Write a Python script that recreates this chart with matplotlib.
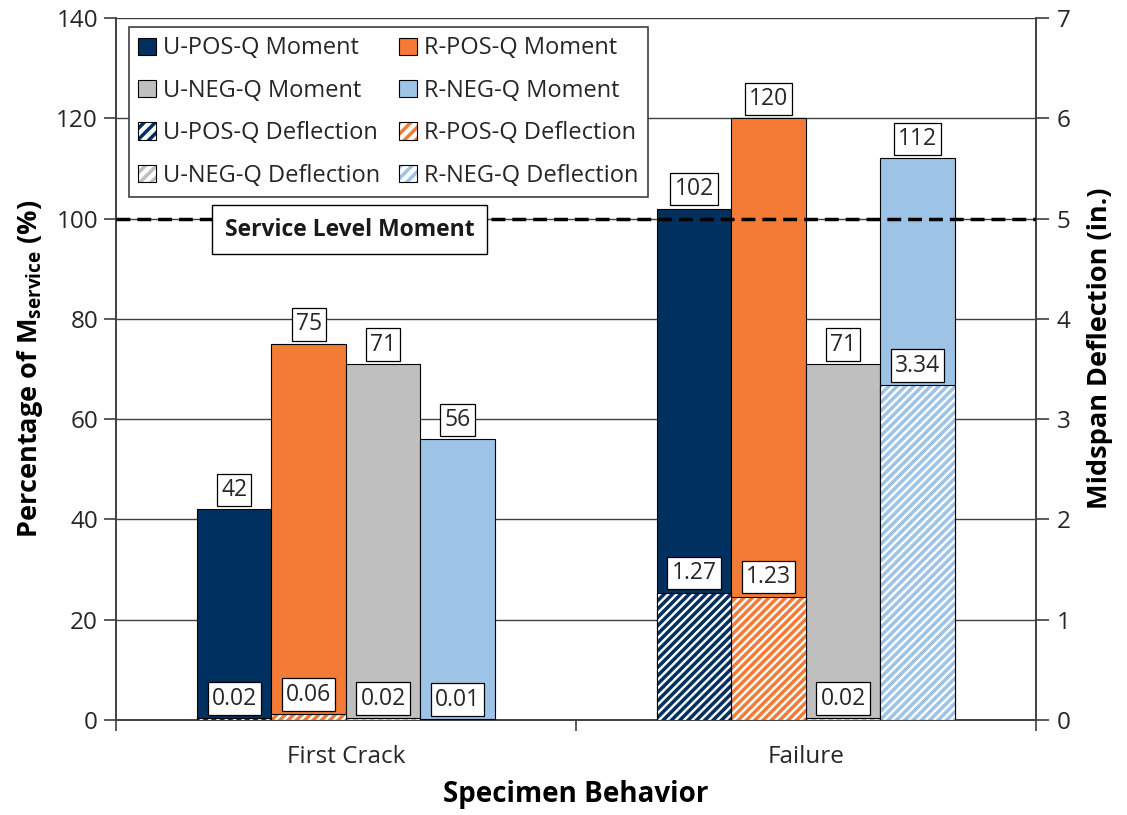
import matplotlib
matplotlib.use("Agg")
import matplotlib.pyplot as plt
from matplotlib.patches import Patch
from matplotlib.legend_handler import HandlerTuple
import numpy as np

plt.rcParams['font.family'] = ['Open Sans', 'DejaVu Sans']
plt.rcParams['mathtext.fontset'] = 'custom'
plt.rcParams['mathtext.rm'] = 'Open Sans'
plt.rcParams['mathtext.bf'] = 'Open Sans:bold'
plt.rcParams['hatch.linewidth'] = 2.5
plt.rcParams['text.color'] = '#262626'
plt.rcParams['axes.labelcolor'] = '#000000'
plt.rcParams['xtick.labelcolor'] = '#262626'
plt.rcParams['ytick.labelcolor'] = '#262626'

categories = ["First Crack", "Failure"]
series = ["U-POS-Q", "R-POS-Q", "U-NEG-Q", "R-NEG-Q"]
moment = {
    "U-POS-Q": [42, 102],
    "R-POS-Q": [75, 120],
    "U-NEG-Q": [71, 71],
    "R-NEG-Q": [56, 112],
}
deflection = {
    "U-POS-Q": [0.02, 1.27],
    "R-POS-Q": [0.06, 1.23],
    "U-NEG-Q": [0.02, 0.02],
    "R-NEG-Q": [0.01, 3.34],
}
deflection_labels = {
    "U-POS-Q": ["0.02", "1.27"],
    "R-POS-Q": ["0.06", "1.23"],
    "U-NEG-Q": ["0.02", "0.02"],
    "R-NEG-Q": ["0.01", "3.34"],
}
colors = {
    "U-POS-Q": "#003060",
    "R-POS-Q": "#F47B36",
    "U-NEG-Q": "#BFBFBF",
    "R-NEG-Q": "#9DC3E6",
}
service_level = 100

fig = plt.figure(figsize=(11.27, 8.15), dpi=100)
ax1 = fig.add_axes([0.103, 0.1166, 0.816, 0.8613])
ax2 = ax1.twinx()

x = np.arange(len(categories))
w = 0.162
offsets = [-1.5 * w, -0.5 * w, 0.5 * w, 1.5 * w]
HATCH = "////"

for s, off in zip(series, offsets):
    ax1.bar(x + off, moment[s], width=w, color=colors[s], edgecolor="black",
            linewidth=0.8, zorder=3)
    ax2.bar(x + off, deflection[s], width=w, color="white", edgecolor=colors[s],
            hatch=HATCH, linewidth=0, zorder=3)
    ax2.bar(x + off, deflection[s], width=w, fill=False, edgecolor="black",
            linewidth=0.8, zorder=4)

box = dict(boxstyle="square,pad=0.18", facecolor="white", edgecolor="black", linewidth=0.9)
for s, off in zip(series, offsets):
    for i in range(len(categories)):
        ax2.annotate(str(moment[s][i]), xy=(x[i] + off, moment[s][i]),
                     xycoords=ax1.transData, xytext=(0, 14), textcoords="offset points",
                     ha="center", va="center", fontsize=16.5, bbox=box, zorder=10)
        ax2.annotate(deflection_labels[s][i], xy=(x[i] + off, deflection[s][i]),
                     xycoords=ax2.transData, xytext=(0, 14), textcoords="offset points",
                     ha="center", va="center", fontsize=16.5, bbox=box, zorder=10)

ax2.plot([-0.5, 1.5], [service_level / 20, service_level / 20], color="black",
         linestyle=(0, (4, 2)), linewidth=2.5, zorder=6)
ax2.text(0.008, 97.8 / 20, "Service Level Moment", ha="center", va="center",
         fontsize=16.5, fontweight="bold", zorder=11, color="#1a1a1a",
         bbox=dict(boxstyle="square,pad=0.55", facecolor="white", edgecolor="black", linewidth=1))

ax1.set_xlim(-0.5, 1.5)
ax1.set_ylim(0, 140)
ax2.set_ylim(0, 7)
ax1.set_yticks(np.arange(0, 141, 20))
ax2.set_yticks(np.arange(0, 8, 1))
ax1.yaxis.grid(True, color="#404040", linewidth=1.0, zorder=0)
ax1.set_axisbelow(True)

ax1.set_xticks(x)
ax1.set_xticklabels(categories, fontsize=17.5)
ax1.set_xticks([-0.5, 0.5, 1.5], minor=True)
ax1.tick_params(axis="x", which="major", length=0, pad=18)
ax1.tick_params(axis="x", which="minor", length=8, width=1.2, color="#404040")
ax1.tick_params(axis="y", length=9, width=1.2, color="#404040", labelsize=17.5, pad=4)
ax2.tick_params(axis="y", length=9, width=1.2, color="#404040", labelsize=17.5, pad=6)

for ax in (ax1, ax2):
    ax.spines["top"].set_visible(False)
    for sp in ("left", "right", "bottom"):
        ax.spines[sp].set_color("#404040")
        ax.spines[sp].set_linewidth(1.2)

ax1.set_ylabel(r"Percentage of M$_{\mathbf{service}}$ (%)", fontsize=19.5,
               fontweight="bold", labelpad=8)
ax2.set_ylabel("Midspan Deflection (in.)", fontsize=19.5, fontweight="bold")
ax2.yaxis.set_label_coords(1.056, 0.53)
ax1.set_xlabel("Specimen Behavior", fontsize=20, fontweight="bold", labelpad=8)

handles = []
labels = []
order_cols = [["U-POS-Q", "U-NEG-Q"], ["R-POS-Q", "R-NEG-Q"]]
for col in order_cols:
    for s in col:
        handles.append(Patch(facecolor=colors[s], edgecolor="black", linewidth=0.8))
        labels.append(f"{s} Moment")
    for s in col:
        handles.append((Patch(facecolor="white", edgecolor=colors[s], hatch="///", linewidth=0),
                        Patch(fill=False, edgecolor="black", linewidth=0.8)))
        labels.append(f"{s} Deflection")

leg = ax2.legend(handles, labels, ncol=2, loc="upper left",
                 bbox_to_anchor=(0.001, 1.004), fontsize=17, frameon=True,
                 fancybox=False, edgecolor="#404040", framealpha=1,
                 handlelength=0.75, handleheight=0.75, handletextpad=0.3,
                 columnspacing=0.8, labelspacing=0.78, borderpad=0.4,
                 handler_map={tuple: HandlerTuple(ndivide=1, pad=0)})
leg.get_frame().set_linewidth(1.2)
leg.set_zorder(20)

fig.savefig("out.png", dpi=100)
